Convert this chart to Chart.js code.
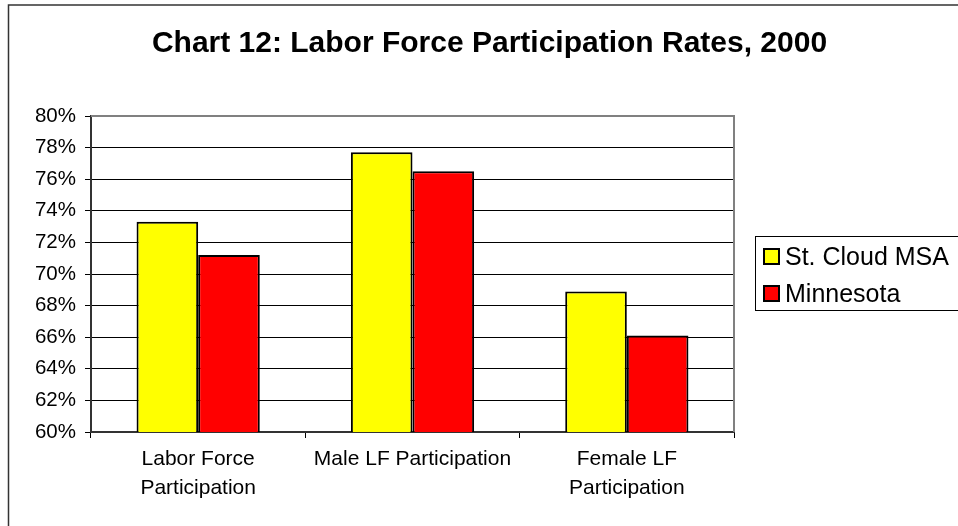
<!DOCTYPE html>
<html>
<head>
<meta charset="utf-8">
<script src="https://cdn.jsdelivr.net/npm/chart.js@4.4.0/dist/chart.umd.min.js"></script>
<style>
  html, body { margin: 0; padding: 0; background: #fff; }
  #wrap { width: 958px; height: 526px; }
</style>
</head>
<body>
<div id="wrap"><canvas id="lfpr-chart" width="958" height="526"></canvas></div>
<script>
// Labor force participation rates (%), 2000
const categories = [
  ['Labor Force', 'Participation'],
  'Male LF Participation',
  ['Female LF', 'Participation'],
];
const stCloudRates = [73.3, 77.7, 68.9];
const minnesotaRates = [71.2, 76.5, 66.1];
const seriesNames = ['St. Cloud MSA', 'Minnesota'];
const seriesColors = ['#ffff00', '#ff0000'];
const yMin = 60;
const yMax = 80;
const yStep = 2;

const chartTitle = 'Chart 12: Labor Force Participation Rates, 2000';
const FONT = '"Liberation Sans", Arial, Helvetica, sans-serif';

// white page, outer frame and the title
const framePlugin = {
  id: 'frame',
  beforeDraw(chart) {
    const ctx = chart.ctx;
    ctx.save();
    ctx.fillStyle = '#fff';
    ctx.fillRect(0, 0, chart.width, chart.height);
    ctx.strokeStyle = '#333';
    ctx.lineWidth = 1.5;
    ctx.strokeRect(8.5, 5, chart.width + 20, chart.height + 20);
    ctx.fillStyle = '#000';
    ctx.font = 'bold 30px ' + FONT;
    ctx.textAlign = 'center';
    ctx.textBaseline = 'alphabetic';
    ctx.fillText(chartTitle, 489.5, 52);
    ctx.restore();
  },
};

// grey frame along the top and right of the plot area
const plotBorderPlugin = {
  id: 'plotBorder',
  afterDatasetsDraw(chart) {
    const { ctx, chartArea } = chart;
    ctx.save();
    ctx.strokeStyle = '#808080';
    ctx.lineWidth = 2;
    ctx.beginPath();
    ctx.moveTo(chartArea.left, chartArea.top);
    ctx.lineTo(chartArea.right, chartArea.top);
    ctx.lineTo(chartArea.right, chartArea.bottom);
    ctx.stroke();
    ctx.restore();
  },
};

// boxed legend on the right side
const legendBoxPlugin = {
  id: 'legendBox',
  afterDraw(chart) {
    const ctx = chart.ctx;
    ctx.save();
    ctx.strokeStyle = '#000';
    ctx.lineWidth = 1;
    ctx.strokeRect(755.5, 236.5, 300, 74);
    ctx.font = '25px ' + FONT;
    ctx.textAlign = 'left';
    ctx.textBaseline = 'alphabetic';
    chart.data.datasets.forEach((ds, i) => {
      const y = 248 + i * 37;
      ctx.fillStyle = ds.backgroundColor;
      ctx.fillRect(763, y, 17, 17);
      ctx.lineWidth = 2;
      ctx.strokeStyle = '#000';
      ctx.strokeRect(764, y + 1, 15, 15);
      ctx.fillStyle = '#000';
      ctx.fillText(ds.label, 785, y + 17);
    });
    ctx.restore();
  },
};

const ctx = document.getElementById('lfpr-chart').getContext('2d');

new Chart(ctx, {
  type: 'bar',
  data: {
    labels: categories,
    datasets: [
      {
        label: seriesNames[0],
        data: stCloudRates,
        backgroundColor: seriesColors[0],
        borderColor: '#000',
        borderWidth: 2,
        borderSkipped: false,
      },
      {
        label: seriesNames[1],
        data: minnesotaRates,
        backgroundColor: seriesColors[1],
        borderColor: '#000',
        borderWidth: 2,
        borderSkipped: false,
      },
    ],
  },
  options: {
    responsive: false,
    animation: false,
    devicePixelRatio: 1,
    layout: {
      padding: { top: 116, right: 224, left: 0, bottom: 0 },
    },
    datasets: {
      bar: {
        categoryPercentage: 0.575,
        barPercentage: 1,
      },
    },
    plugins: {
      legend: { display: false },
      title: { display: false },
      tooltip: { enabled: false },
    },
    scales: {
      x: {
        afterFit(scale) { scale.height = 94; },
        grid: {
          offset: true,
          drawOnChartArea: false,
          tickLength: 6,
          tickColor: '#000',
        },
        border: { color: '#333', width: 2 },
        ticks: {
          color: '#000',
          padding: 7,
          maxRotation: 0,
          autoSkip: false,
          font: { family: FONT, size: 21, lineHeight: 1.38 },
        },
      },
      y: {
        min: yMin,
        max: yMax,
        afterFit(scale) { scale.width = 91; },
        grid: {
          color: (c) => (c.tick && c.tick.value === yMax ? 'rgba(0,0,0,0)' : '#000'),
          lineWidth: 1,
          tickLength: 6,
          tickColor: '#000',
        },
        border: { color: '#333', width: 2 },
        ticks: {
          stepSize: yStep,
          color: '#000',
          padding: 9,
          font: { family: FONT, size: 20.5 },
          callback: (v) => v + '%',
        },
      },
    },
  },
  plugins: [framePlugin, plotBorderPlugin, legendBoxPlugin],
});
</script>
</body>
</html>
